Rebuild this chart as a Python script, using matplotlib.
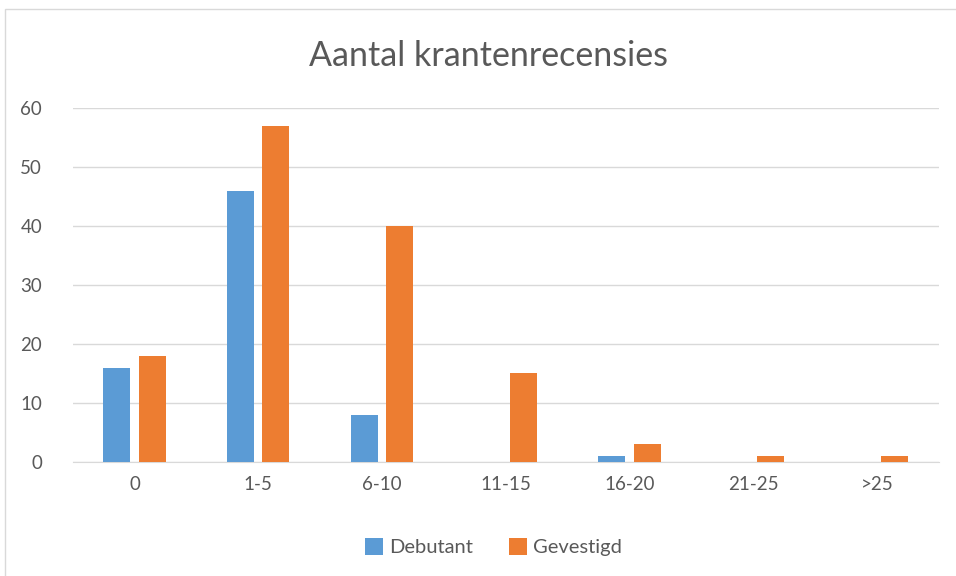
import matplotlib.pyplot as plt
import matplotlib.patches as patches
import numpy as np

categories = ['0', '1-5', '6-10', '11-15', '16-20', '21-25', '>25']
debutant = [16, 46, 8, 0, 1, 0, 0]
gevestigd = [18, 57, 40, 15, 3, 1, 1]

plt.rcParams['font.family'] = ['Lato', 'DejaVu Sans']

fig = plt.figure(figsize=(9.56, 5.76), dpi=100)
ax = fig.add_axes([0.076, 0.198, 0.906, 0.6145])

x = np.arange(len(categories))
w = 0.218
off = 0.142
ax.bar(x - off, debutant, w, color='#5B9BD5', label='Debutant', zorder=3)
ax.bar(x + off, gevestigd, w, color='#ED7D31', label='Gevestigd', zorder=3)

ax.set_xlim(-0.5, len(categories) - 0.5)
ax.set_ylim(0, 60)
ax.set_yticks(range(0, 61, 10))
ax.set_xticks(x)
ax.set_xticklabels(categories)
ax.grid(axis='y', color='#D9D9D9', linewidth=1, zorder=0)
for s in ['top', 'right', 'left']:
    ax.spines[s].set_visible(False)
ax.spines['bottom'].set_color('#D9D9D9')
ax.tick_params(length=0, labelsize=13.5, colors='#595959', pad=10)
ax.tick_params(axis='y', pad=22)

fig.text(0.511, 0.903, 'Aantal krantenrecensies', ha='center', va='center',
         fontsize=24.5, color='#595959')

fig.legend(loc='center', bbox_to_anchor=(0.516, 0.05), ncol=2, frameon=False,
           fontsize=14.5, labelcolor='#595959', handlelength=0.9, handleheight=0.9,
           columnspacing=1.8, handletextpad=0.3)

# chart border
fig.patches.append(patches.Rectangle((5 / 956, -0.01), 1.0, 0.994, transform=fig.transFigure,
                                     fill=False, edgecolor='#D9D9D9', linewidth=1))

fig.savefig('out.png', dpi=100)
